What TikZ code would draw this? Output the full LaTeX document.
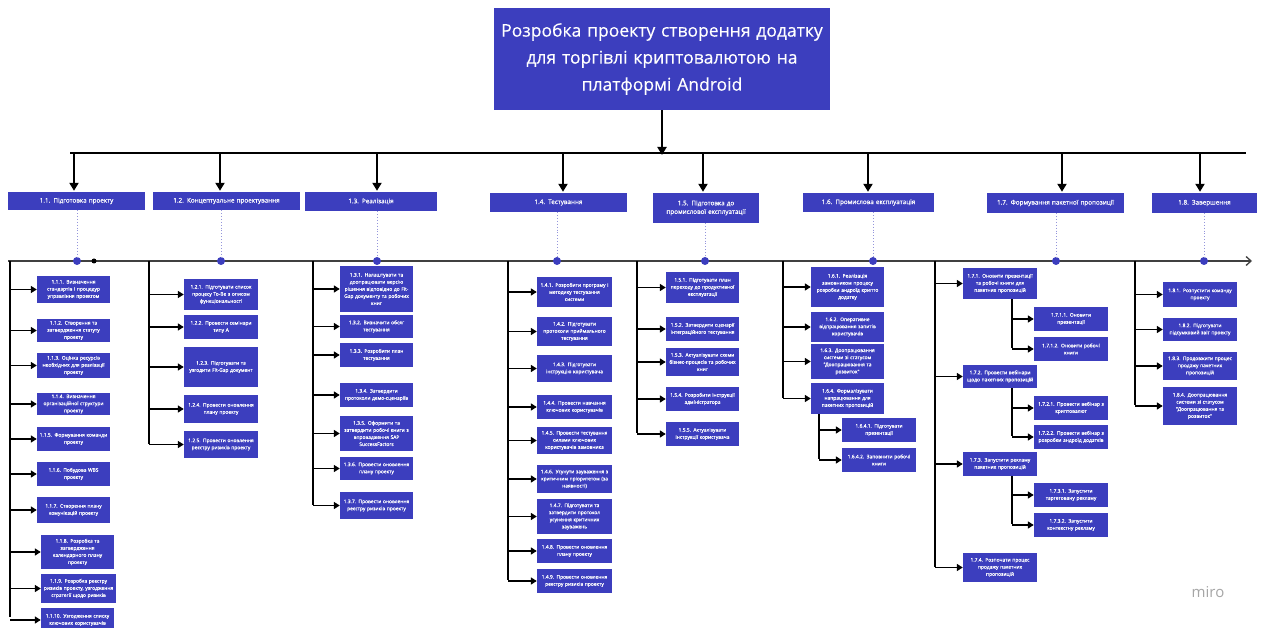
\documentclass[tikz,border=0pt]{standalone}
\usepackage{fontspec}
\setmainfont{Open Sans}
\newfontface\boxfont{Open Sans}[FakeBold=0.6]
\newfontface\ttlfont{Open Sans}[FakeBold=0.3]
\usetikzlibrary{arrows.meta}
\definecolor{wbs}{RGB}{60,62,190}
\tikzset{
 box/.style={fill=wbs, text=white, inner sep=0pt, align=center, font=\boxfont\fontsize{4.9}{7.1}\selectfont},
 hdr/.style={box, font=\boxfont\fontsize{6.3}{8.6}\selectfont},
 ttl/.style={box, font=\ttlfont\fontsize{17.5}{27}\selectfont},
 arr/.style={draw=black, line width=1.5pt, -{Triangle[length=6pt,width=7pt]}},
 toparr/.style={draw=black, line width=2pt, -{Triangle[length=8pt,width=9pt]}},
 trunkline/.style={draw=black, line width=1.5pt},
 dotline/.style={draw=wbs!55, line width=0.9pt, dotted},
 bdot/.style={circle, fill=wbs, inner sep=0pt, minimum size=8pt},
 kdot/.style={circle, fill=black, inner sep=0pt, minimum size=5pt},
}
\newcommand\bx[7][box]{%
 \pgfmathsetmacro\bw{#5-#3}\pgfmathsetmacro\bh{#6-#4}%
 \pgfmathsetmacro\bcx{(#3+#5)/2}\pgfmathsetmacro\bcy{(#4+#6)/2}%
 \node[#1, minimum width=\bw pt, minimum height=\bh pt, text width=\bw pt] (#2) at (\bcx,\bcy) {#7};}
\begin{document}
\begin{tikzpicture}[x=1pt,y=-1pt]
\fill[white] (0,0) rectangle (1264,628);
\useasboundingbox (0,0) rectangle (1264,628);

% title and level 1
\bx[ttl]{title}{494}{8}{830}{110}{Розробка проекту створення додатку\\для торгівлі криптовалютою на\\платформі Android}
\bx[hdr]{h11}{8}{192}{145}{210}{1.1. Підготовка проекту}
\bx[hdr]{h12}{153}{192}{300}{210}{1.2. Концептуальне проектування}
\bx[hdr]{h13}{305}{192}{437}{211}{1.3. Реалізація}
\bx[hdr]{h14}{490}{193}{627}{212}{1.4. Тестування}
\bx[hdr]{h15}{653}{193}{759}{223}{1.5. Підготовка до\\промислової експлуатації}
\bx[hdr]{h16}{803}{193}{934}{212}{1.6. Промислова експлуатація}
\bx[hdr]{h17}{987}{193}{1124}{213}{1.7. Формування пакетної пропозиції}
\bx[hdr]{h18}{1152}{193}{1257}{213}{1.8. Завершення}

\coordinate (hl) at (70,153);
\coordinate (hr) at (1246,153);
\draw[line width=2pt] (hl) -- (hr);
\draw[toparr] (title.south) -- ([yshift=-2pt]title.south |- hl);
\coordinate (a1) at (74,153);
\coordinate (a2) at (220,153);
\coordinate (a3) at (377,153);
\coordinate (a4) at (563,153);
\coordinate (a5) at (703,153);
\coordinate (a6) at (868,153);
\coordinate (a7) at (1062,153);
\coordinate (a8) at (1200,153);
\foreach \i/\h in {1/h11,2/h12,3/h13,4/h14,5/h15,6/h16,7/h17,8/h18}
  \draw[toparr] (a\i) -- ([yshift=1pt]a\i |- \h.north);

% timeline
\coordinate (tlL) at (8,261);
\coordinate (tlR) at (1252,261);
\draw[line width=1.3pt, draw=black!75, -{Straight Barb[length=5pt,width=9pt]}] (tlL) -- (tlR);
\node[bdot] (d1) at (77,261) {};
\node[bdot] (d2) at (221,261) {};
\node[bdot] (d3) at (377,261) {};
\node[bdot] (d4) at (557,261) {};
\node[bdot] (d5) at (705,261) {};
\node[bdot] (d6) at (873,261) {};
\node[bdot] (d7) at (1056,261) {};
\node[bdot] (d8) at (1204,261) {};
\node[kdot] (k1) at (94,261) {};
\foreach \i/\h in {1/h11,2/h12,3/h13,4/h14,5/h15,6/h16,7/h17,8/h18}
  \draw[dotline] (d\i |- \h.south) -- (d\i.north);

% column 1
\bx{n111}{37}{276}{110}{303}{1.1.1. Визначення\\стандартів і процедур\\управління проектом}
\bx{n112}{37}{319}{110}{342}{1.1.2. Створення та\\затвердження статуту\\проекту}
\bx{n113}{37}{353}{110}{378}{1.1.3. Оцінка ресурсів\\необхідних для реалізації\\проекту}
\bx{n114}{37}{393}{110}{415}{1.1.4. Визначення\\організаційної структури\\проекту}
\bx{n115}{37}{427}{110}{451}{1.1.5. Формування команди\\проекту}
\bx{n116}{37}{462}{110}{486}{1.1.6. Побудова WBS\\проекту}
\bx{n117}{37}{497}{110}{523}{1.1.7. Створення плану\\комунікацій проекту}
\bx{n118}{41}{535}{114}{569}{1.1.8. Розробка та\\затвердження\\календарного плану\\проекту}
\bx{n119}{41}{574}{116}{603}{1.1.9. Розробка реєстру\\ризиків проекту, узгодження\\стратегії щодо ризиків}
\bx{n1110}{41}{608}{114}{632}{1.1.10. Узгодження списку\\ключових користувачів}
\coordinate (t1) at (10,261);
\draw[trunkline] (t1) -- ([yshift=3pt]t1 |- n1110.west);
\foreach \n in {n111,n112,n113,n114,n115,n116,n117,n118,n119,n1110}
  \draw[arr] (t1 |- \n.west) -- (\n.west);

% column 2
\bx{n121}{184}{279}{258}{310}{1.2.1. Підготувати список\\процесу To-Be з описом\\функціональності}
\bx{n122}{184}{315}{258}{339}{1.2.2. Провести семінари\\типу А}
\bx{n123}{184}{347}{258}{387}{1.2.3. Підготувати та\\узгодити Fit-Gap документ}
\bx{n124}{184}{395}{258}{423}{1.2.4. Провести оновлення\\плану проекту}
\bx{n125}{184}{431}{258}{458}{1.2.5. Провести оновлення\\реєстру ризиків проекту}
\coordinate (t2) at (149,261);
\draw[trunkline] (t2) -- ([yshift=1pt]t2 |- n125.west);
\foreach \n in {n121,n122,n123,n124,n125}
  \draw[arr] (t2 |- \n.west) -- (\n.west);

% column 3
\bx{n131}{340}{266}{413}{312}{1.3.1. Налаштувати та\\доопрацювати версію\\рішення відповідно до Fit-\\Gap документу та робочих\\книг}
\bx{n132}{340}{315}{413}{338}{1.3.2. Визначити обсяг\\тестування}
\bx{n133}{340}{343}{413}{367}{1.3.3. Розробити план\\тестування}
\bx{n134}{340}{383}{413}{407}{1.3.4. Затвердити\\протоколи демо-сценаріїв}
\bx{n135}{340}{416}{413}{451}{1.3.5. Оформити та\\затвердити робочі книги з\\впровадження SAP\\SuccessFactors}
\bx{n136}{340}{457}{413}{480}{1.3.6. Провести оновлення\\плану проекту}
\bx{n137}{340}{492}{413}{519}{1.3.7. Провести оновлення\\реєстру ризиків проекту}
\coordinate (t3) at (313,261);
\draw[trunkline] (t3) -- ([yshift=1pt]t3 |- n137.west);
\foreach \n in {n131,n132,n133,n134,n135,n136,n137}
  \draw[arr] (t3 |- \n.west) -- (\n.west);

% column 4
\bx{n141}{537}{277}{612}{307}{1.4.1. Розробити програму і\\методику тестування\\системи}
\bx{n142}{537}{317}{612}{346}{1.4.2. Підготувати\\протоколи приймального\\тестування}
\bx{n143}{537}{355}{612}{382}{1.4.3. Підготувати\\інструкцію користувача}
\bx{n144}{537}{395}{612}{419}{1.4.4. Провести навчання\\ключових користувачів}
\bx{n145}{537}{427}{612}{454}{1.4.5. Провести тестування\\силами ключових\\користувачів замовника}
\bx{n146}{537}{465}{612}{493}{1.4.6. Усунути зауваження з\\критичним пріоритетом (за\\наявності)}
\bx{n147}{537}{499}{612}{534}{1.4.7. Підготувати та\\затвердити протокол\\усунення критичних\\зауважень}
\bx{n148}{537}{539}{612}{563}{1.4.8. Провести оновлення\\плану проекту}
\bx{n149}{537}{569}{612}{593}{1.4.9. Провести оновлення\\реєстру ризиків проекту}
\coordinate (t4) at (508,261);
\draw[trunkline] (t4) -- ([yshift=1pt]t4 |- n149.west);
\foreach \n in {n141,n142,n143,n144,n145,n146,n147,n148,n149}
  \draw[arr] (t4 |- \n.west) -- (\n.west);

% column 5
\bx{n151}{666}{272}{739}{303}{1.5.1. Підготувати план\\переходу до продуктивної\\експлуатації}
\bx{n152}{666}{317}{739}{341}{1.5.2. Затвердити сценарії\\інтеграційного тестування}
\bx{n153}{666}{348}{739}{376}{1.5.3. Актуалізувати схеми\\бізнес-процесів та робочих\\книг}
\bx{n154}{666}{387}{739}{411}{1.5.4. Розробити інструкції\\адміністратора}
\bx{n155}{666}{422}{739}{446}{1.5.5. Актуалізувати\\інструкції користувача}
\coordinate (t5) at (637,261);
\draw[trunkline] (t5) -- ([yshift=1pt]t5 |- n155.west);
\foreach \n in {n151,n152,n153,n154,n155}
  \draw[arr] (t5 |- \n.west) -- (\n.west);

% column 6
\bx{n161}{811}{267}{884}{307}{1.6.1. Реалізація\\замовником процесу\\розробки андроїд крипто\\додатку}
\bx{n162}{811}{312}{884}{342}{1.6.2. Оперативне\\відпрацювання запитів\\користувачів}
\bx{n163}{811}{344}{884}{379}{1.6.3. Доопрацювання\\системи зі статусом\\"Доопрацювання та\\розвиток"}
\bx{n164}{811}{383}{884}{414}{1.6.4. Формалізувати\\напрацювання для\\пакетних пропозицій}
\bx{n1641}{842}{418}{916}{442}{1.6.4.1. Підготувати\\презентації}
\bx{n1642}{842}{448}{916}{472}{1.6.4.2. Заповнити робочі\\книги}
\coordinate (t6) at (783,261);
\draw[trunkline] (t6) -- ([yshift=1pt]t6 |- n164.west);
\foreach \n in {n161,n162,n163,n164}
  \draw[arr] (t6 |- \n.west) -- (\n.west);
\coordinate (s64) at (819,414);
\draw[trunkline] (s64) -- ([yshift=1pt]s64 |- n1642.west);
\foreach \n in {n1641,n1642}
  \draw[arr] (s64 |- \n.west) -- (\n.west);

% column 7
\bx{n171}{963}{268}{1037}{299}{1.7.1. Оновити презентації\\та робочі книги для\\пакетних пропозицій}
\bx{n1711}{1034}{307}{1108}{331}{1.7.1.1. Оновити\\презентації}
\bx{n1712}{1034}{337}{1108}{361}{1.7.1.2. Оновити робочі\\книги}
\bx{n172}{963}{365}{1037}{388}{1.7.2. Провести вебінари\\щодо пакетних пропозицій}
\bx{n1721}{1034}{396}{1108}{420}{1.7.2.1. Провести вебінар з\\криптовалют}
\bx{n1722}{1034}{425}{1108}{449}{1.7.2.2. Провести вебінар з\\розробки андроїд додатків}
\bx{n173}{963}{452}{1037}{476}{1.7.3. Запустити рекламу\\пакетних пропозицій}
\bx{n1731}{1034}{483}{1108}{507}{1.7.3.1. Запустити\\таргетовану рекламу}
\bx{n1732}{1034}{513}{1108}{537}{1.7.3.2. Запустити\\контекстну рекламу}
\bx{n174}{963}{553}{1037}{582}{1.7.4. Розпочати процес\\продажу пакетних\\пропозицій}
\coordinate (t7) at (935,261);
\draw[trunkline] (t7) -- ([yshift=1pt]t7 |- n174.west);
\foreach \n in {n171,n172,n173,n174}
  \draw[arr] (t7 |- \n.west) -- (\n.west);
\coordinate (s71) at (1012,299);
\coordinate (s72) at (1012,388);
\coordinate (s73) at (1012,476);
\draw[trunkline] (s71) -- ([yshift=1pt]s71 |- n1712.west);
\draw[trunkline] (s72) -- ([yshift=1pt]s72 |- n1722.west);
\draw[trunkline] (s73) -- ([yshift=1pt]s73 |- n1732.west);
\foreach \s/\n in {s71/n1711,s71/n1712,s72/n1721,s72/n1722,s73/n1731,s73/n1732}
  \draw[arr] (\s |- \n.west) -- (\n.west);

% column 8
\bx{n181}{1163}{282}{1237}{307}{1.8.1. Розпустити команду\\проекту}
\bx{n182}{1163}{318}{1237}{341}{1.8.2. Підготувати\\підсумковий звіт проекту}
\bx{n183}{1163}{352}{1237}{380}{1.8.3. Продовжити процес\\продажу пакетних\\пропозицій}
\bx{n184}{1163}{387}{1237}{425}{1.8.4. Доопрацювання\\системи зі статусом\\"Доопрацювання та\\розвиток"}
\coordinate (t8) at (1135,261);
\draw[trunkline] (t8) -- ([yshift=1pt]t8 |- n184.west);
\foreach \n in {n181,n182,n183,n184}
  \draw[arr] (t8 |- \n.west) -- (\n.west);

% watermark
\node[text=black!35, font=\fontsize{15}{15}\selectfont] (miro) at (1208,592) {miro};
\end{tikzpicture}
\end{document}
